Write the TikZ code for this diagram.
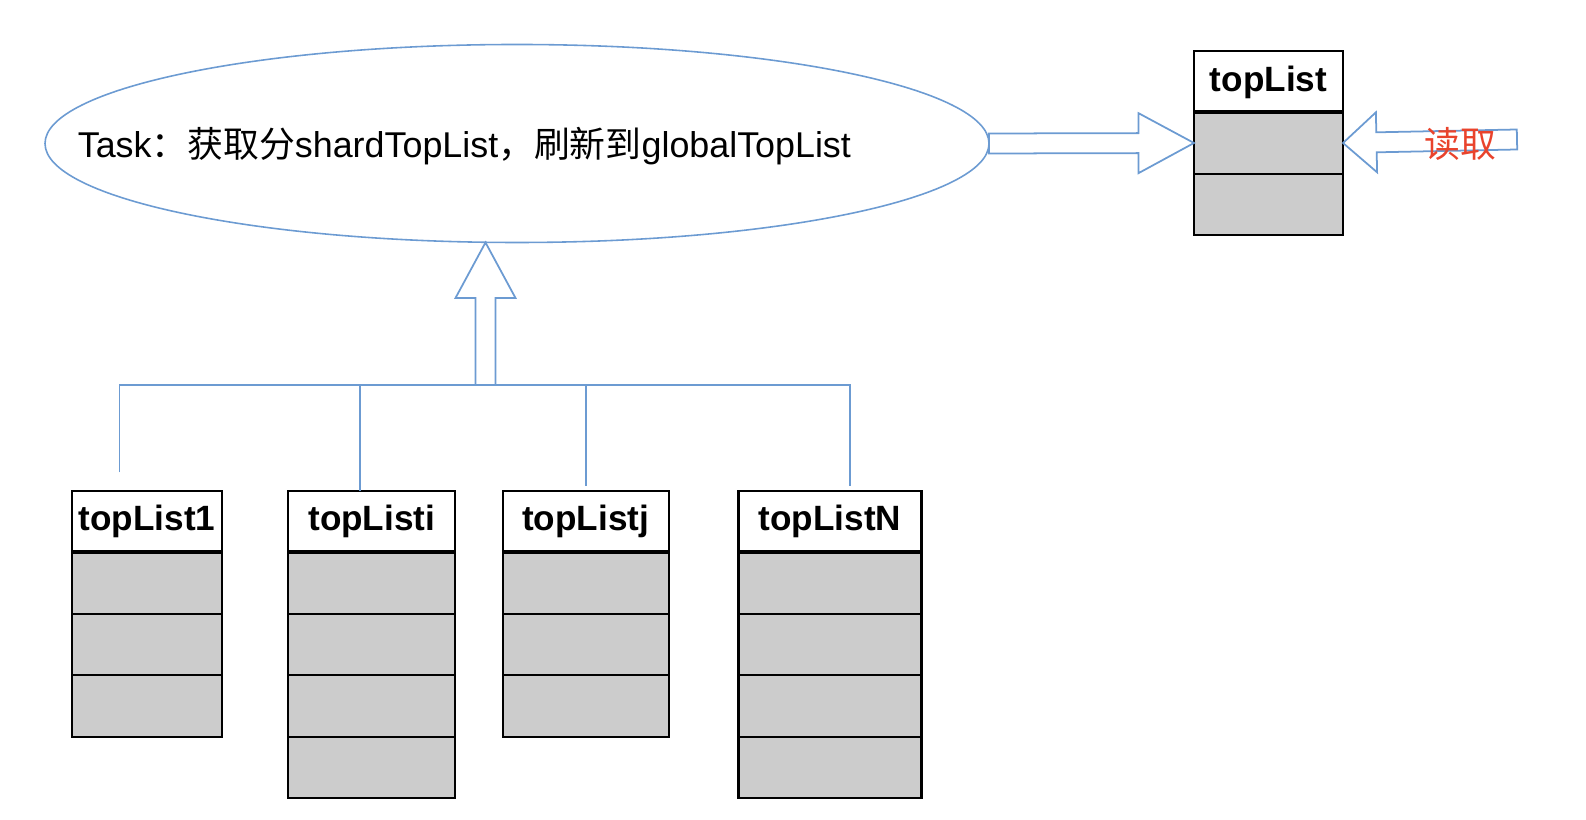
\documentclass[tikz,border=0pt]{standalone}
\usepackage{fontspec}
\setmainfont{Liberation Sans}
\newfontfamily\cjk{Noto Sans CJK SC}
\usepackage{xcolor}
\usepackage{tikz}
\usetikzlibrary{shapes.geometric,calc,positioning}
\definecolor{linkblue}{RGB}{108,155,210}
\definecolor{cellgray}{RGB}{204,204,204}
\definecolor{readred}{RGB}{233,67,44}
\tikzset{%
  listhead/.style = {draw, line width=1.2pt, fill=white, outer sep=0pt,
    minimum height=1.23cm, inner sep=0pt, text depth=0.36em,
    font=\bfseries\fontsize{20}{24}\selectfont}, % Title cell
  listrow/.style  = {draw, line width=1.2pt, fill=cellgray, outer sep=0pt,
    minimum height=1.23cm}, % Entry cell
  headrule/.style = {line width=2.2pt},
  link/.style     = {draw=linkblue, line width=1pt},
  fatarrow/.style = {draw=linkblue, line width=1pt, fill=white},
  taskoval/.style = {draw=linkblue, ellipse, line width=0.9pt, outer sep=0pt,
    minimum width=18.88cm, minimum height=3.96cm},
  txt/.style      = {inner sep=0pt, font=\fontsize{20.4}{24}\selectfont}
}
\def\rowh{1.23cm}
\def\shaftw{0.2cm}
\def\headw{0.6cm}
% name, centre, width, title, rows
\newcommand{\mklist}[5]{%
  \node[listhead, minimum width=#3] (#1) at (#2) {#4};
  \foreach \rw in {1,...,#5}
    \node[listrow, minimum width=#3, anchor=north] (#1-\rw)
      at ([yshift={-(\rw-1)*\rowh}]#1.south) {};
  \draw[headrule] (#1.south west) -- (#1.south east);
}
% head length, from, to
\newcommand{\hollowarrow}[3][1.11cm]{%
  \coordinate (ha-b) at ($(#3)!#1!(#2)$);
  \draw[fatarrow] ($(#2)!\shaftw!90:(#3)$) -- ($(ha-b)!\shaftw!90:(#3)$)
    -- ($(ha-b)!\headw!90:(#3)$) -- (#3) -- ($(ha-b)!\headw!-90:(#3)$)
    -- ($(ha-b)!\shaftw!-90:(#3)$) -- ($(#2)!\shaftw!-90:(#3)$) -- cycle;
}
\begin{document}
\begin{tikzpicture}
  \useasboundingbox (0,0) rectangle (31.72,16.4);
  % task
  \node[taskoval] (task) at (10.34,13.53) {};
  \node[txt, anchor=west] (tasktext) at ([xshift=0.65cm,yshift=-0.06cm]task.west)
    {Task{\cjk ：获取分}shardTopList{\cjk ，刷新到}globalTopList};
  % global list
  \mklist{top}{25.37,14.77}{2.98cm}{topList}{2}
  % shard lists
  \mklist{tl1}{2.943,5.973}{3.01cm}{topList1}{3}
  \mklist{tli}{7.435,5.973}{3.34cm}{topListi}{4}
  \mklist{tlj}{11.713,5.973}{3.32cm}{topListj}{3}
  \mklist{tlN}{16.599,5.973}{3.66cm}{topListN}{4}
  % merge
  \coordinate (bus) at (9.71,8.7);
  \coordinate (uptip) at (bus |- task.south);
  \draw[link] ([xshift=-0.555cm,yshift=0.364cm]tl1.north) |- (bus);
  \draw[link] ([xshift=-0.235cm]tli.north) |- (bus);
  \draw[link] ([yshift=0.1cm]tlj.north) |- (bus);
  \draw[link] ([xshift=0.395cm,yshift=0.1cm]tlN.north) |- (bus);
  \hollowarrow{bus}{uptip}
  \hollowarrow{task.east}{top-1.west}
  % read
  \coordinate (readsrc) at (30.34,13.61);
  \hollowarrow[0.67cm]{readsrc}{top-1.east}
  \node[txt, text=readred, left=0.4cm of readsrc, yshift=-0.08cm] (readlbl) {\cjk 读取};
\end{tikzpicture}
\end{document}
